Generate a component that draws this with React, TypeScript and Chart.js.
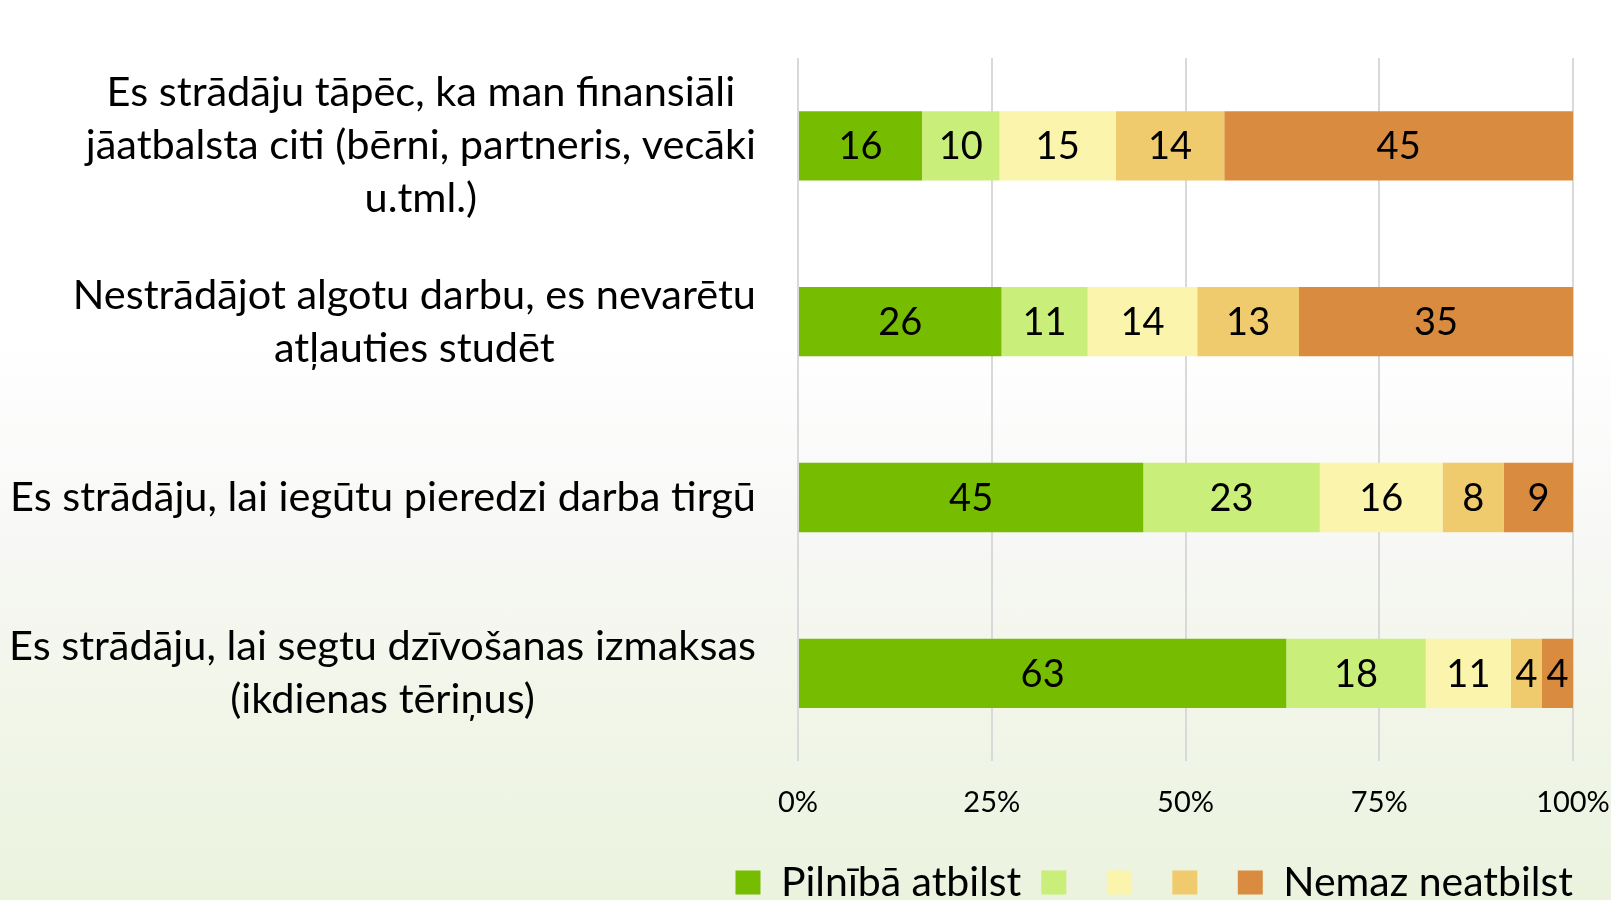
import React, { useEffect, useRef } from "react";
import { Chart, registerables } from "chart.js";

Chart.register(...registerables);

const FONT = "Lato";

const categories: string[][] = [
  ["Es strādāju tāpēc, ka man finansiāli", "jāatbalsta citi (bērni, partneris, vecāki", "u.tml.)"],
  ["Nestrādājot algotu darbu, es nevarētu", "atļauties studēt"],
  ["Es strādāju, lai iegūtu pieredzi darba tirgū"],
  ["Es strādāju, lai segtu dzīvošanas izmaksas", "(ikdienas tēriņus)"],
];

const seriesNames = ["Pilnībā atbilst", "", "", "", "Nemaz neatbilst"];
const seriesColors = ["#76BC00", "#C9EE79", "#FAF4AC", "#EFCB6D", "#D98B3F"];

const s1 = [16, 26, 45, 63];
const s2 = [10, 11, 23, 18];
const s3 = [15, 14, 16, 11];
const s4 = [14, 13, 8, 4];
const s5 = [45, 35, 9, 4];

const tickValues = [0, 25, 50, 75, 100];

const allSeries = [s1, s2, s3, s4, s5];

const labelPlugin = {
  id: "catLabels",
  afterDraw(chart: any) {
    const ctx = chart.ctx;
    const y = chart.scales.y;
    ctx.save();
    ctx.font = `41.5px ${FONT}`;
    ctx.fillStyle = "#000";
    ctx.textAlign = "center";
    ctx.textBaseline = "middle";
    const right = chart.chartArea.left - 42;
    const lh = 53;
    categories.forEach((lines, i) => {
      const maxW = Math.max(...lines.map((l) => ctx.measureText(l).width));
      const cx = right - maxW / 2;
      const cy = y.getPixelForValue(i);
      lines.forEach((l, j) => ctx.fillText(l, cx, cy + (j - (lines.length - 1) / 2) * lh));
    });
    ctx.restore();
  },
};

const valuePlugin = {
  id: "barValues",
  afterDatasetsDraw(chart: any) {
    const ctx = chart.ctx;
    ctx.save();
    ctx.font = `38px ${FONT}`;
    ctx.fillStyle = "#000";
    ctx.textAlign = "center";
    ctx.textBaseline = "middle";
    chart.data.datasets.forEach((ds: any, di: number) => {
      const meta = chart.getDatasetMeta(di);
      meta.data.forEach((bar: any, i: number) => {
        const v = allSeries[di][i];
        ctx.fillText(String(v), (bar.x + bar.base) / 2, bar.y + 1);
      });
    });
    ctx.restore();
  },
};

export default function App() {
  const ref = useRef<HTMLCanvasElement | null>(null);
  useEffect(() => {
    if (!ref.current) return;
    const totals = categories.map((_, i) => allSeries.reduce((a, s) => a + s[i], 0));
    const chart = new Chart(ref.current, {
      type: "bar",
      data: {
        labels: categories.map((c) => c.join(" ")),
        datasets: allSeries.map((s, k) => ({
          label: seriesNames[k],
          data: s.map((v, i) => (v / totals[i]) * 100),
          backgroundColor: seriesColors[k],
          borderWidth: 0,
          barPercentage: 0.394,
          categoryPercentage: 1,
        })),
      },
      options: {
        indexAxis: "y",
        animation: false,
        responsive: true,
        maintainAspectRatio: false,
        layout: { padding: { top: 58, left: 0, right: 18, bottom: 0 } },
        scales: {
          x: {
            stacked: true,
            min: 0,
            max: 100,
            afterBuildTicks: (axis: any) => {
              axis.ticks = tickValues.map((v) => ({ value: v }));
            },
            afterFit: (axis: any) => {
              axis.paddingLeft = 0;
              axis.paddingRight = 0;
              axis.height -= 2;
            },
            grid: { color: "#D9D9D9", lineWidth: 2, drawTicks: false },
            border: { display: false },
            ticks: {
              padding: 24,
              color: "#000",
              font: { family: FONT, size: 29 },
              callback: (v: any) => `${v}%`,
            },
          },
          y: {
            stacked: true,
            display: true,
            grid: { display: false },
            border: { display: false },
            ticks: { display: false },
            afterFit: (axis: any) => {
              axis.width = 798;
            },
          },
          y2: {
            type: "category",
            position: "right",
            display: true,
            grid: { display: false },
            border: { display: false },
            ticks: { display: false },
            afterFit: (axis: any) => {
              axis.width = 20;
            },
          },
        },
        plugins: {
          legend: {
            position: "bottom",
            align: "end",
            labels: {
              boxWidth: 25,
              boxHeight: 24,
              padding: 20,
              color: "#000",
              font: { family: FONT, size: 41 },
            },
          },
          tooltip: { enabled: false },
        },
      },
      plugins: [labelPlugin, valuePlugin],
    });
    return () => chart.destroy();
  }, []);

  return (
    <div
      style={{
        position: "fixed",
        left: 0,
        top: 0,
        width: 1611,
        height: 900,
        overflow: "hidden",
        background:
          "linear-gradient(to bottom, #ffffff 0%, #ffffff 38%, #f8f8f7 58%, #f2f6ea 76%, #ebf3df 100%)",
      }}
    >
      <div style={{ position: "relative", width: 1611, height: 913 }}>
        <canvas ref={ref} />
      </div>
    </div>
  );
}
